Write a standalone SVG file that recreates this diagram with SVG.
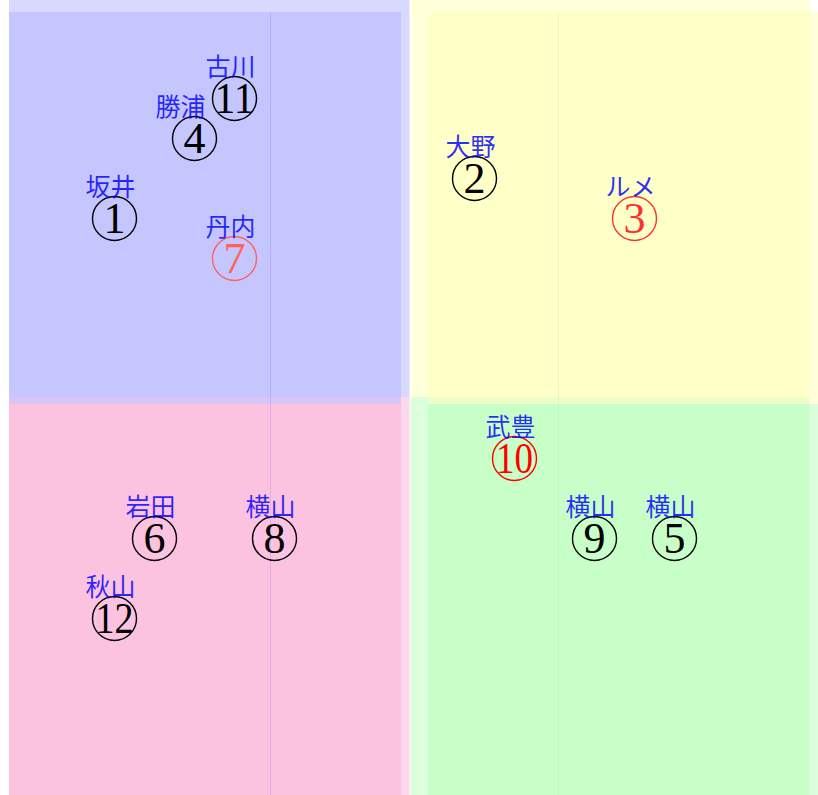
<svg xmlns="http://www.w3.org/2000/svg" width="818" height="795" viewBox="0 0 818 795">
<style>
.q{fill-opacity:0.5;stroke:none}
.blue{fill:#b3b3ff}
.yellow{fill:#ffffb6}
.pink{fill:#fbb0d8}
.green{fill:#b6ffb6}
.ring{fill:none;stroke:#000;stroke-width:1.4}
.num{font-family:"Liberation Serif","DejaVu Serif",serif;font-size:44px;text-anchor:middle;fill:#000}
.lbl{font-family:"Noto Sans CJK JP","Noto Sans CJK SC",sans-serif;font-size:25px;fill:#0000ff;fill-opacity:0.82}
.r1 .ring{stroke:#ff6060}.r1 .num{fill:#ff6060}
.r2 .ring{stroke:#ff3030}.r2 .num{fill:#ff3030}
.r3 .ring{stroke:#ff0000}.r3 .num{fill:#ff0000}
</style>
<rect width="818" height="795" fill="#ffffff"/>
<g id="background">
<rect class="q blue" x="9" y="0" width="400.5" height="397"/>
<rect class="q yellow" x="410.5" y="0" width="399" height="397"/>
<rect class="q pink" x="9" y="397" width="400.5" height="398"/>
<rect class="q green" x="410.5" y="397" width="399" height="398"/>
<rect class="q blue" x="9" y="12" width="392" height="392"/>
<rect class="q yellow" x="428" y="12" width="390" height="392"/>
<rect class="q pink" x="9" y="404" width="392" height="391"/>
<rect class="q green" x="428" y="404" width="390" height="391"/>
<line x1="270.5" y1="12" x2="270.5" y2="795" stroke="#0000ff" stroke-opacity="0.1" stroke-width="1"/>
<line x1="558.5" y1="12" x2="558.5" y2="795" stroke="#00c000" stroke-opacity="0.08" stroke-width="1"/>
</g>
<g id="connectors"></g>
<g id="node1"><circle class="ring" cx="114.5" cy="218.5" r="22"/><text class="num" x="114.5" y="233">1</text><text class="lbl" x="85.5" y="196">坂井</text></g>
<g id="node2"><circle class="ring" cx="474.5" cy="178.5" r="22"/><text class="num" x="474.5" y="193">2</text><text class="lbl" x="445.5" y="156">大野</text></g>
<g id="node3" class="r2"><circle class="ring" cx="634.5" cy="218.5" r="22"/><text class="num" x="634.5" y="233">3</text><text class="lbl" x="605.5" y="196">ルメ</text></g>
<g id="node4"><circle class="ring" cx="194.5" cy="138.5" r="22"/><text class="num" x="194.5" y="153">4</text><text class="lbl" x="155.5" y="116">勝浦</text></g>
<g id="node5"><circle class="ring" cx="674.5" cy="538.5" r="22"/><text class="num" x="674.5" y="553">5</text><text class="lbl" x="645.5" y="516">横山</text></g>
<g id="node6"><circle class="ring" cx="154.5" cy="538.5" r="22"/><text class="num" x="154.5" y="553">6</text><text class="lbl" x="125.5" y="516">岩田</text></g>
<g id="node7" class="r1"><circle class="ring" cx="234.5" cy="258.5" r="22"/><text class="num" x="234.5" y="273">7</text><text class="lbl" x="205.5" y="236">丹内</text></g>
<g id="node8"><circle class="ring" cx="274.5" cy="538.5" r="22"/><text class="num" x="274.5" y="553">8</text><text class="lbl" x="245.5" y="516">横山</text></g>
<g id="node9"><circle class="ring" cx="594.5" cy="538.5" r="22"/><text class="num" x="594.5" y="553">9</text><text class="lbl" x="565.5" y="516">横山</text></g>
<g id="node10" class="r3"><circle class="ring" cx="514.5" cy="458.5" r="22"/><text class="num" x="514.5" y="473" textLength="37" lengthAdjust="spacingAndGlyphs">10</text><text class="lbl" x="485.5" y="436">武豊</text></g>
<g id="node11"><circle class="ring" cx="234.5" cy="98.5" r="22"/><text class="num" x="234.5" y="113" textLength="40" lengthAdjust="spacingAndGlyphs">11</text><text class="lbl" x="205.5" y="76">古川</text></g>
<g id="node12"><circle class="ring" cx="114.5" cy="618.5" r="22"/><text class="num" x="114.5" y="633" textLength="38" lengthAdjust="spacingAndGlyphs">12</text><text class="lbl" x="85.5" y="596">秋山</text></g>
</svg>
